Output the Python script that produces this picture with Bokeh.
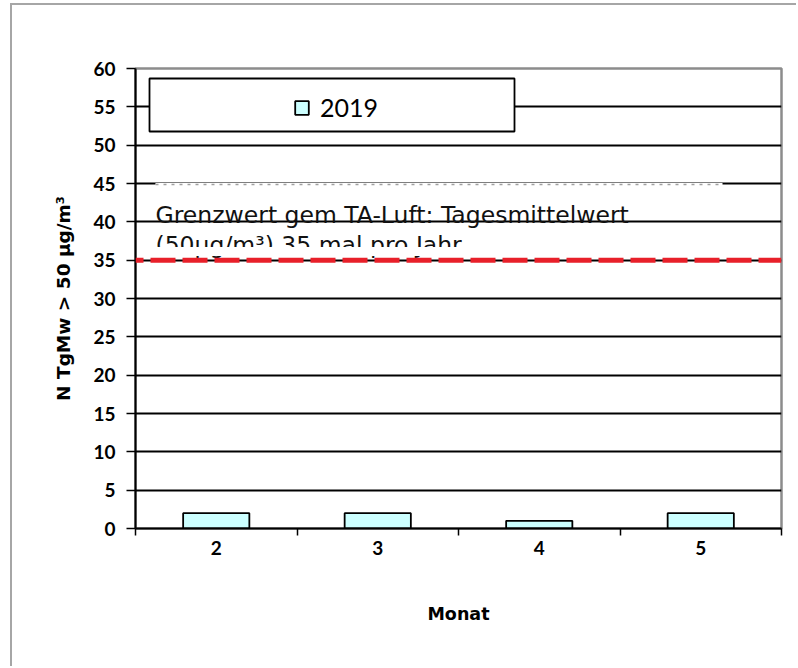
import numpy as np
from bokeh.plotting import figure
from bokeh.models import (Range1d, LinearAxis, FixedTicker, Grid, Span, Label,
                          BoxAnnotation)
from bokeh.embed import file_html
from bokeh.resources import INLINE

# ---- data ----
months = ["2", "3", "4", "5"]
counts = [2, 2, 1, 2]
series_name = "2019"
limit = 35
y_ticks = [0, 5, 10, 15, 20, 25, 30, 35, 40, 45, 50, 55, 60]
y_label = "N TgMw > 50 µg/m³"
x_label = "Monat"
note_lines = ["Grenzwert gem TA-Luft: Tagesmittelwert",
              "(50µg/m³)  35 mal pro Jahr"]

TICK_FONT = "Lato"
LABEL_FONT = "DejaVu Sans"
W, H = 786, 663

n = len(months)
centers = list(np.arange(n) + 0.5)
bounds = list(np.arange(n + 1).astype(float))

p = figure(width=W, height=H, output_backend="svg", toolbar_location=None,
           x_range=Range1d(0, n), y_range=Range1d(0, y_ticks[-1]),
           x_axis_type=None, y_axis_type=None,
           min_border_left=123, min_border_right=17,
           min_border_top=63, min_border_bottom=140)
p.styles = {"margin-left": "10px", "margin-top": "3px",
            "border-left": "2px solid #a6a6a6",
            "border-top": "2px solid #a6a6a6"}
p.background_fill_color = "white"
p.border_fill_color = "white"
p.outline_line_color = "#8c8c8c"
p.outline_line_width = 2.5

# helpers: page-pixel layout positions -> data space (for decorations only)
FX0, FX1, FY0, FY1 = 135, 781, 528, 68
def px2x(px):
    return (px - FX0) / (FX1 - FX0) * n
def px2y(py):
    return (FY0 - py) / (FY0 - FY1) * y_ticks[-1]

# y axis
yaxis = LinearAxis(ticker=FixedTicker(ticks=y_ticks, minor_ticks=[]))
yaxis.axis_line_color = "black"
yaxis.axis_line_width = 2
yaxis.major_tick_out = 9
yaxis.major_tick_in = 0
yaxis.major_tick_line_color = "black"
yaxis.major_tick_line_width = 1.5
yaxis.major_label_text_font = TICK_FONT
yaxis.major_label_text_font_style = "bold"
yaxis.major_label_text_font_size = "19px"
yaxis.major_label_text_color = "black"
yaxis.major_label_standoff = 11
yaxis.axis_label = y_label
yaxis.axis_label_text_font = LABEL_FONT
yaxis.axis_label_text_font_style = "bold"
yaxis.axis_label_text_font_size = "18.5px"
yaxis.axis_label_text_color = "black"
yaxis.axis_label_standoff = 16
p.add_layout(yaxis, "left")

# x axis: labels at centres, tick marks at category boundaries
xaxis = LinearAxis(ticker=FixedTicker(ticks=centers, minor_ticks=bounds))
xaxis.major_label_overrides = {c: m for c, m in zip(centers, months)}
xaxis.axis_line_color = "black"
xaxis.axis_line_width = 2
xaxis.major_tick_line_color = None
xaxis.major_tick_out = 0
xaxis.major_tick_in = 0
xaxis.minor_tick_line_color = "black"
xaxis.minor_tick_line_width = 1.5
xaxis.minor_tick_out = 7
xaxis.minor_tick_in = 0
xaxis.major_label_text_font = TICK_FONT
xaxis.major_label_text_font_style = "bold"
xaxis.major_label_text_font_size = "19px"
xaxis.major_label_text_color = "black"
xaxis.major_label_standoff = 5
xaxis.axis_label = x_label
xaxis.axis_label_text_font = LABEL_FONT
xaxis.axis_label_text_font_style = "bold"
xaxis.axis_label_text_font_size = "17.5px"
xaxis.axis_label_text_color = "black"
xaxis.axis_label_standoff = 46
p.add_layout(xaxis, "below")

grid = Grid(dimension=1, ticker=yaxis.ticker, grid_line_color="black",
            grid_line_width=2)
p.add_layout(grid)

# note text box decorations (box top replaces grid line with dotted grey)
nx0, nx1 = px2x(155), px2x(722)
note_top = px2y(184)
p.segment(x0=[nx0], x1=[nx1], y0=[note_top], y1=[note_top],
          line_color="white", line_width=3)
p.segment(x0=[nx0], x1=[nx1], y0=[note_top], y1=[note_top],
          line_color="#a0a0a0", line_width=1.5, line_dash="3 5")

# legend frame
legend_box = BoxAnnotation(left=px2x(149), right=px2x(514),
                           top=px2y(78), bottom=px2y(131),
                           fill_color="white", fill_alpha=1,
                           line_color="black", line_alpha=1, line_width=1.8)
p.add_layout(legend_box)

# bars
p.vbar(x=centers, top=counts, width=0.41, fill_color="#ccffff",
       line_color="black", line_width=1.8, legend_label=series_name)

lg = p.legend[0]
lg.border_line_color = None
lg.background_fill_alpha = 0
lg.padding = 0
lg.margin = 0
lg.spacing = 0
lg.glyph_width = 17
lg.glyph_height = 17
lg.label_standoff = 10
lg.label_text_font = TICK_FONT
lg.label_text_font_size = "25px"
lg.label_text_color = "black"
lg.location = (158, 406)

# note text
for i, line in enumerate(note_lines):
    p.add_layout(Label(x=px2x(155), y=px2y(214 + 30 * i), text=line,
                       text_font=LABEL_FONT, text_font_size="23.5px",
                       text_color="#111111", text_baseline="alphabetic"))
# the text box clips the descenders of its second line
p.add_layout(BoxAnnotation(left=nx0, right=nx1, top=px2y(246.5),
                           bottom=px2y(255.5), fill_color="white",
                           fill_alpha=1, line_color=None))

# limit line
p.add_layout(Span(location=limit, dimension="width", line_color="#e8202a",
                  line_width=5, line_dash="25 7", line_dash_offset=17))

open("out.html", "w").write(file_html(p, INLINE))
